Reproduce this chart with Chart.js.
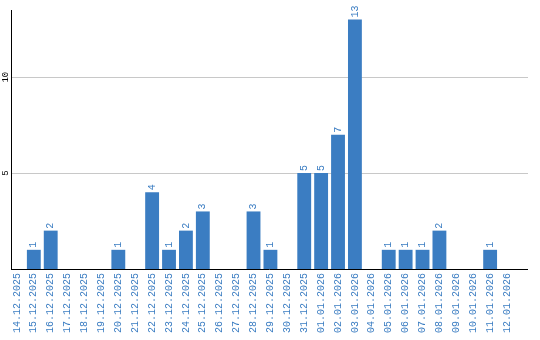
<!DOCTYPE html>
<html>
<head>
<meta charset="utf-8">
<script src="https://cdn.jsdelivr.net/npm/chart.js@4.4.1/dist/chart.umd.min.js"></script>
<style>
  body { margin: 0; background: #fff; }
</style>
</head>
<body>
<canvas id="myChart" width="540" height="340"></canvas>
<script>
var dates = [
    '14.12.2025', '15.12.2025', '16.12.2025', '17.12.2025', '18.12.2025',
    '19.12.2025', '20.12.2025', '21.12.2025', '22.12.2025', '23.12.2025',
    '24.12.2025', '25.12.2025', '26.12.2025', '27.12.2025', '28.12.2025',
    '29.12.2025', '30.12.2025', '31.12.2025', '01.01.2026', '02.01.2026',
    '03.01.2026', '04.01.2026', '05.01.2026', '06.01.2026', '07.01.2026',
    '08.01.2026', '09.01.2026', '10.01.2026', '11.01.2026', '12.01.2026'
];
var counts = [0, 1, 2, 0, 0, 0, 1, 0, 4, 1, 2, 3, 0, 0, 3, 1, 0, 5, 5, 7, 13, 0, 1, 1, 1, 2, 0, 0, 1, 0];
var yTicks = [5, 10];

var blue = 'rgb(59, 125, 194)';
var mono = 'Liberation Mono';

var points = [];
for (var i = 0; i < counts.length; i++) {
    points.push({ x: i, y: counts[i] });
}

// numbers written sideways just above each bar
const valueLabels = {
    id: 'valueLabels',
    afterDatasetsDraw(chart) {
        const ctx = chart.ctx;
        const meta = chart.getDatasetMeta(0);
        ctx.save();
        ctx.fillStyle = blue;
        ctx.font = '10px ' + mono;
        ctx.textAlign = 'left';
        ctx.textBaseline = 'middle';
        meta.data.forEach((bar, i) => {
            if (!counts[i]) return;
            ctx.save();
            ctx.translate(bar.x, bar.y - 2);
            ctx.rotate(-Math.PI / 2);
            ctx.fillText(String(counts[i]), 0, 0);
            ctx.restore();
        });
        ctx.restore();
    }
};

const config = {
    type: 'bar',
    data: {
        datasets: [{
            data: points,
            backgroundColor: blue,
            borderWidth: 0,
            categoryPercentage: 1.0,
            barPercentage: 0.82
        }]
    },
    options: {
        responsive: false,
        animation: false,
        layout: { padding: { top: 10, right: 9, left: 0, bottom: 0 } },
        plugins: {
            legend: { display: false },
            tooltip: { enabled: false }
        },
        scales: {
            x: {
                type: 'linear',
                offset: false,
                min: -0.35,
                max: 30.24,
                afterFit: (scale) => { scale.height = 71; },
                grid: { display: false, drawTicks: false, offset: false },
                border: { color: '#000', width: 1 },
                ticks: {
                    stepSize: 1,
                    autoSkip: false,
                    includeBounds: false,
                    minRotation: 90,
                    maxRotation: 90,
                    padding: 4,
                    color: blue,
                    font: { family: mono, size: 10 },
                    callback: (v) => Number.isInteger(v) && dates[v] ? dates[v] : ''
                }
            },
            y: {
                min: 0,
                max: 13.5,
                afterFit: (scale) => { scale.width = 11; },
                afterBuildTicks: (scale) => {
                    scale.ticks = yTicks.map(v => ({ value: v }));
                },
                grid: {
                    color: '#c8c8c8',
                    drawTicks: false
                },
                border: { color: '#000', width: 1 },
                ticks: {
                    minRotation: 90,
                    maxRotation: 90,
                    crossAlign: 'center',
                    padding: 0,
                    color: '#000',
                    font: { family: mono, size: 9 }
                }
            }
        }
    },
    plugins: [valueLabels]
};

const myChart = new Chart(document.getElementById('myChart'), config);
</script>
</body>
</html>
